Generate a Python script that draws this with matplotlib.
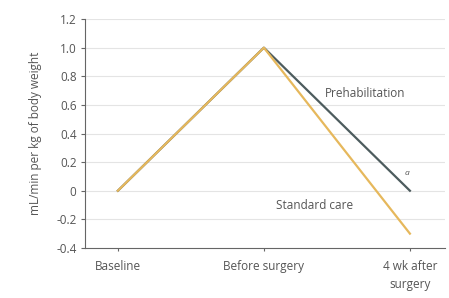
import matplotlib
matplotlib.use("Agg")
import matplotlib.pyplot as plt

plt.rcParams['font.family'] = ['Open Sans', 'DejaVu Sans']

timepoints = ["Baseline", "Before surgery", "4 wk after\nsurgery"]
prehab = [0.0, 1.0, 0.0]
standard = [0.0, 1.0, -0.3]
yticks = [-0.4, -0.2, 0, 0.2, 0.4, 0.6, 0.8, 1.0, 1.2]
ytick_labels = ["-0.4", "-0.2", "0", "0.2", "0.4", "0.6", "0.8", "1.0", "1.2"]

fig = plt.figure(figsize=(4.49, 2.98), dpi=100)
ax = fig.add_axes([0.189, 0.168, 0.802, 0.768])

x = list(range(len(timepoints)))
ax.plot(x, prehab, color="#4d5c5e", lw=1.6, zorder=3)
ax.plot(x, standard, color="#e6b85c", lw=1.6, zorder=4)

ax.set_xlim(-0.226, 2.24)
ax.set_ylim(-0.4, 1.2)
ax.set_yticks(yticks)
ax.set_yticklabels(ytick_labels)
ax.set_xticks(x)
ax.set_xticklabels(timepoints, linespacing=1.5)
for y in yticks[1:]:
    ax.axhline(y, color="#e4e4e4", lw=0.8, zorder=1)

for s in ["top", "right"]:
    ax.spines[s].set_visible(False)
for s in ["left", "bottom"]:
    ax.spines[s].set_color("#666666")
    ax.spines[s].set_linewidth(0.8)
ax.tick_params(axis="y", colors="#666666", labelcolor="#555555", labelsize=8.5, length=3, width=0.8, pad=3)
ax.tick_params(axis="x", colors="#666666", labelcolor="#555555", labelsize=8.5, length=2, width=0.8, pad=7)

ax.set_ylabel("mL/min per kg of body weight", fontsize=8.5, color="#555555", labelpad=10)

ax.text(1.42, 0.68, "Prehabilitation", fontsize=8.5, color="#555555", ha="left", va="center")
ax.text(0.08 + 1.0, -0.1, "Standard care", fontsize=8.5, color="#555555", ha="left", va="center")
ax.text(1.98, 0.12, "a", fontsize=6, color="#555555", ha="center", va="center", style="italic")

fig.savefig("out.png", dpi=100)
